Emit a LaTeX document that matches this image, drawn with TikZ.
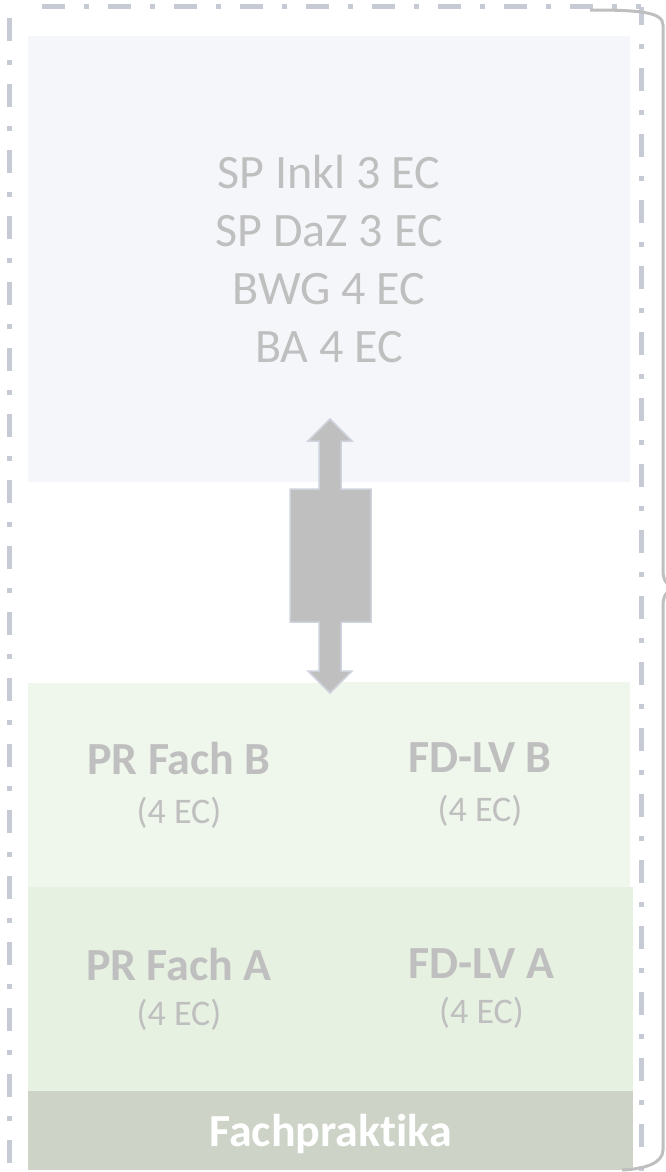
\documentclass[tikz,border=0pt]{standalone}
\usepackage{fontspec}
\setmainfont{Carlito}[Ligatures=NoCommon]
\usetikzlibrary{positioning}

\definecolor{framegray}{HTML}{C5CAD5}
\definecolor{bracegray}{HTML}{BFBFBF}
\definecolor{textgray}{HTML}{BFBFBF}
\definecolor{topfill}{HTML}{F4F6FA}
\definecolor{greenB}{HTML}{EFF6EC}
\definecolor{greenA}{HTML}{E6F1E1}
\definecolor{barfill}{HTML}{CDD3C7}
\definecolor{arrowline}{HTML}{CDD2DC}

\begin{document}
\begin{tikzpicture}[x=1pt,y=-1pt,
    box/.style={anchor=north west,inner sep=0pt,outer sep=0pt,
        align=center,text=textgray},
    cellB/.style={box,fill=greenB,font=\fontsize{36}{49}\selectfont},
    cellA/.style={box,fill=greenA,font=\fontsize{36}{45}\selectfont},
    frame/.style={framegray,line width=5pt,
        dash pattern=on 23pt off 19pt on 5pt off 19pt},
    brace/.style={bracegray,line width=3pt},
    ]
    \useasboundingbox (0,0) rectangle (666,1172);
    \clip (0,0) rectangle (666,1172);
    % Frame
    \draw[frame,dash phase=55pt] (9,7) -- (9,1180);
    \draw[frame,dash phase=47pt] (23,7) -- (641,7);
    \draw[frame,dash phase=5pt] (641,7) -- (641,1180);
    % Top block
    \node[box,fill=topfill,minimum width=602pt,minimum height=446pt,
          font=\fontsize{48}{58}\selectfont] (modules) at (28,36)
          {SP Inkl 3 EC\\SP DaZ 3 EC\\BWG 4 EC\\BA 4 EC};
    % Fach B
    \node[cellB,minimum width=302pt,minimum height=204pt] (prB) at (28,683)
          {{\fontsize{46}{49}\selectfont\bfseries PR Fach B}\\(4 EC)};
    \node[cellB,minimum width=300pt,minimum height=205pt] (fdB) at (330,682)
          {{\fontsize{46}{49}\selectfont\bfseries FD-LV B}\\(4 EC)};
    % Fach A
    \node[cellA,minimum width=302pt,minimum height=204pt] (prA) at (28,887)
          {{\fontsize{46}{45}\selectfont\bfseries PR Fach A}\\(4 EC)};
    \node[cellA,minimum width=303pt,minimum height=204pt] (fdA) at (330,887)
          {{\fontsize{46}{45}\selectfont\bfseries FD-LV A}\\(4 EC)};
    % Fachpraktika
    \node[box,fill=barfill,text=white,minimum width=605pt,minimum height=79pt,
          font=\fontsize{46}{49}\selectfont\bfseries] (fp) at (28,1091)
          {\raisebox{-3pt}[\height][\depth]{Fachpraktika}};
    % Double arrow
    \filldraw[fill=bracegray,draw=arrowline,line width=1.5pt,line join=miter]
        (330,419) -- (352,441) -- (341,441) -- (341,489) -- (371,489)
        -- (371,622) -- (341,622) -- (341,671) -- (352,671) -- (330,693)
        -- (308,671) -- (319,671) -- (319,622) -- (290,622) -- (290,489)
        -- (319,489) -- (319,441) -- (308,441) -- cycle;
    % Brace
    \draw[brace] (590,10) .. controls (640,10) and (663,12) .. (663,25)
        -- (663,570) .. controls (663,580) and (666,585) .. (675,588)
        .. controls (666,591) and (663,596) .. (663,606)
        -- (663,1150) .. controls (663,1163) and (645,1169) .. (622,1170);
\end{tikzpicture}
\end{document}
